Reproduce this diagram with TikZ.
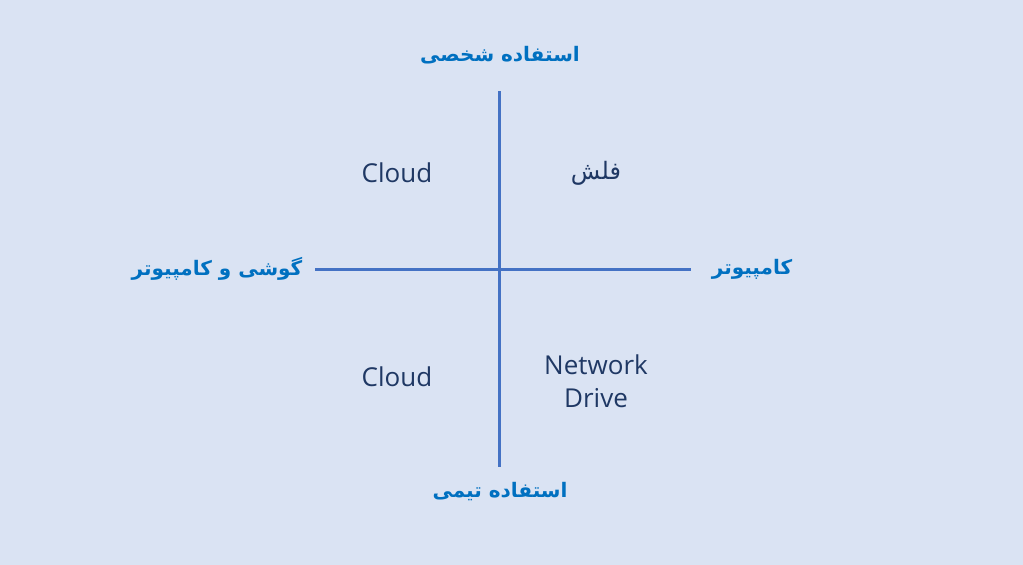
\documentclass[tikz,border=0pt]{standalone}
\usepackage{fontspec}
\setmainfont{Open Sans}
\newfontfamily\arabicfont[Script=Arabic]{DejaVu Sans}
\TeXXeTstate=1
\usepackage{tikz}
\definecolor{bgblue}{HTML}{DAE3F3}
\definecolor{axisblue}{HTML}{4472C4}
\definecolor{labelblue}{HTML}{0070C0}
\definecolor{textnavy}{HTML}{1F3864}
\tikzstyle{node_axis} = [text=labelblue, font=\arabicfont\bfseries\fontsize{20}{24}\selectfont, inner sep=0pt]
\tikzstyle{node_item} = [text=textnavy, font=\fontsize{26}{33}\selectfont, align=center, inner sep=0pt]
\tikzstyle{edge_axis} = [draw=axisblue, line width=3pt]

\begin{document}
\begin{tikzpicture}[x=1pt,y=-1pt]
			\fill[bgblue] (0,0) rectangle (1023,565);
			\useasboundingbox (0,0) rectangle (1023,565);
			\coordinate (T) at (499,91);
			\coordinate (B) at (499,467);
			\coordinate (L) at (315,269);
			\coordinate (R) at (691,269);
			\draw[edge_axis] (T)--(B) (L)--(R);
			\node (top) at (500,55) [node_axis] {\beginR استفاده شخصی\endR};
			\node (bottom) at (500,492) [node_axis] {\beginR استفاده تیمی\endR};
			\node (left) at (217,269) [node_axis] {\beginR گوشی و کامپیوتر\endR};
			\node (right) at (752,269) [node_axis] {\beginR کامپیوتر\endR};
			\node (cloudA) at (397,173) [node_item] {Cloud};
			\node (flash) at (596,173) [node_item] {\arabicfont\fontsize{24}{30}\selectfont\beginR فلش\endR};
			\node (cloudB) at (397,377) [node_item] {Cloud};
			\node (drive) at (596,381) [node_item] {Network\\Drive};
		\end{tikzpicture}
\end{document}
